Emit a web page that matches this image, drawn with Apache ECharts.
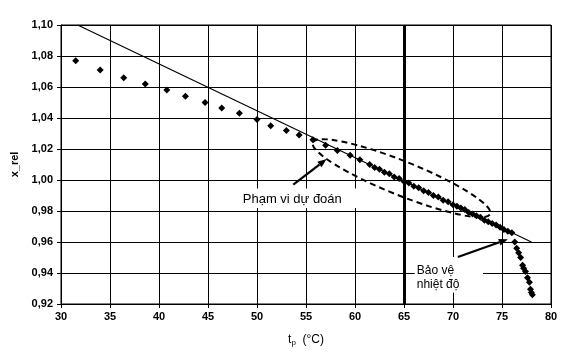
<!DOCTYPE html>
<html><head><meta charset="utf-8">
<script src="https://cdn.jsdelivr.net/npm/echarts@6/dist/echarts.min.js"></script>
<style>html,body{margin:0;padding:0;background:#fff}#c{width:564px;height:352px}</style>
</head><body><div id="c"></div>
<script>
// Measured points: temperature t_p (°C) and relative x_rel
const tempC = [31.5, 34.0, 36.4, 38.6, 40.8, 42.7, 44.7, 46.4, 48.2, 50.0, 51.4, 53.0, 54.3, 55.7, 57.0, 58.2, 59.5, 60.5, 61.5,
  62.0, 62.5, 63.0, 63.5, 64.0, 64.5, 65.0, 65.5, 66.0, 66.5, 67.0, 67.5, 68.0, 68.5, 69.0, 69.5, 70.0,
  70.4, 70.8, 71.2, 71.6, 72.0, 72.4, 72.8, 73.2, 73.6, 74.0, 74.4, 74.8, 75.2, 75.6, 76.0,
  76.3, 76.5, 76.7, 76.9, 77.1, 77.2, 77.4, 77.6, 77.8, 77.9, 78.0, 78.1];
const xRel = [1.077, 1.071, 1.066, 1.062, 1.058, 1.054, 1.050, 1.0465, 1.043, 1.039, 1.035, 1.032, 1.029, 1.026, 1.0225, 1.019, 1.016, 1.013, 1.010,
  1.008, 1.007, 1.005, 1.004, 1.002, 1.001, 0.999, 0.998, 0.996, 0.995, 0.993, 0.992, 0.990, 0.989, 0.987, 0.986, 0.984,
  0.983, 0.982, 0.981, 0.979, 0.978, 0.977, 0.976, 0.974, 0.973, 0.972, 0.971, 0.9695, 0.968, 0.967, 0.966,
  0.960, 0.956, 0.953, 0.950, 0.945, 0.943, 0.941, 0.937, 0.934, 0.9295, 0.9275, 0.926];
// Prediction (trend) line end points
const trendT = [31.7, 78.0];
const trendX = [1.100, 0.960];
// Thermal protection threshold
const protectT = [65];
// Axis ranges
const xAxisRange = [30, 80, 5];
const yAxisRange = [0.92, 1.10, 0.02];
// Annotation texts
const labelRange = 'Phạm vi dự đoán';
const labelProtect = 'Bảo vệ\nnhiệt độ';

const chart = echarts.init(document.getElementById('c'), null, {renderer: 'canvas'});
const FONT = 'Liberation Sans, Arial, sans-serif';
const fmtY = v => v.toFixed(2).replace('.', ',');

chart.setOption({
  animation: false,
  backgroundColor: '#fff',
  grid: {left: 61, right: 13, top: 25, bottom: 42, show: true, borderColor: '#000', borderWidth: 1},
  xAxis: {
    type: 'value', min: xAxisRange[0], max: xAxisRange[1], interval: xAxisRange[2],
    axisLine: {show: true, onZero: false, lineStyle: {color: '#000', width: 1}},
    axisTick: {show: true, length: 4, lineStyle: {color: '#000'}},
    axisLabel: {color: '#000', fontSize: 11, fontWeight: 'bold', fontFamily: FONT, margin: 7},
    splitLine: {show: true, lineStyle: {color: '#000', width: 1}},
    name: 't{s|p}  (°C)', nameLocation: 'middle', nameGap: 29,
    nameTextStyle: {color: '#000', fontSize: 12, fontFamily: FONT,
      rich: {s: {fontSize: 8, verticalAlign: 'bottom', padding: [6, 0, 0, 0], fontFamily: FONT, color: '#000'}}}
  },
  yAxis: {
    type: 'value', min: yAxisRange[0], max: yAxisRange[1], interval: yAxisRange[2],
    axisLine: {show: true, onZero: false, lineStyle: {color: '#000', width: 1}},
    axisTick: {show: true, length: 4, lineStyle: {color: '#000'}},
    axisLabel: {color: '#000', fontSize: 11, fontWeight: 'bold', fontFamily: FONT, margin: 8, formatter: fmtY},
    splitLine: {show: true, lineStyle: {color: '#000', width: 1}},
    name: 'x_rel', nameLocation: 'middle', nameGap: 40,
    nameTextStyle: {color: '#000', fontSize: 11, fontWeight: 'bold', fontFamily: FONT}
  },
  series: [
    {
      type: 'line', data: trendT.map((t, i) => [t, trendX[i]]), symbol: 'none',
      lineStyle: {color: '#000', width: 1.2}, silent: true, z: 3,
      markLine: {
        silent: true, symbol: 'none', label: {show: false},
        lineStyle: {color: '#000', width: 3, type: 'solid'},
        data: protectT.map(v => ({xAxis: v}))
      }
    },
    {
      type: 'scatter', data: tempC.map((t, i) => [t, xRel[i]]), symbol: 'diamond', symbolSize: 7,
      itemStyle: {color: '#000', opacity: 1}, z: 4
    }
  ]
});

// Annotations (ellipse, arrows, labels) positioned from data coordinates
const px = (x, y) => chart.convertToPixel({gridIndex: 0}, [x, y]);
const ellL = px(55.7, 1.0242), ellR = px(73.8, 0.9781);
const ecx = (ellL[0] + ellR[0]) / 2, ecy = (ellL[1] + ellR[1]) / 2;
const erx = Math.hypot(ellR[0] - ellL[0], ellR[1] - ellL[1]) / 2;
const eang = Math.atan2(ellR[1] - ellL[1], ellR[0] - ellL[0]);

function arrow(from, to) {
  const a = px(from[0], from[1]), b = px(to[0], to[1]);
  const ang = Math.atan2(b[1] - a[1], b[0] - a[0]);
  const L = 9, W = 3.5;
  const bx = b[0] - L * Math.cos(ang), by = b[1] - L * Math.sin(ang);
  return [
    {type: 'line', shape: {x1: a[0], y1: a[1], x2: bx, y2: by}, style: {stroke: '#000', lineWidth: 2.2}, z: 20},
    {type: 'polygon', shape: {points: [[b[0], b[1]],
      [bx - W * Math.sin(ang), by + W * Math.cos(ang)],
      [bx + W * Math.sin(ang), by - W * Math.cos(ang)]]}, style: {fill: '#000'}, z: 20}
  ];
}

const lab1 = px(53.6, 0.9875);
const box1a = px(48.1, 0.9945), box1b = px(60.3, 0.9820);
const lab2 = px(66.3, 0.9462);
const box2a = px(66.1, 0.9503), box2b = px(73.06, 0.9275);

chart.setOption({
  graphic: [
    {type: 'ellipse', shape: {cx: 0, cy: 0, rx: erx, ry: 17}, x: ecx, y: ecy, rotation: -eang,
      style: {fill: 'none', stroke: '#000', lineWidth: 2, lineDash: [6, 4]}, z: 15},
    {type: 'rect', shape: {x: box1a[0], y: box1a[1], width: box1b[0] - box1a[0], height: box1b[1] - box1a[1]},
      style: {fill: '#fff'}, z: 18},
    {type: 'rect', shape: {x: box2a[0], y: box2a[1], width: box2b[0] - box2a[0], height: box2b[1] - box2a[1]},
      style: {fill: '#fff'}, z: 18},
    ...arrow([53.7, 0.997], [57.1, 1.0135]),
    ...arrow([70.5, 0.9503], [75.6, 0.9618]),
    {type: 'text', x: lab1[0], y: lab1[1], style: {text: labelRange, font: '13px ' + FONT, fill: '#000',
      textAlign: 'center', textVerticalAlign: 'middle'}, z: 21},
    {type: 'text', x: lab2[0], y: lab2[1], style: {text: labelProtect, font: '12px ' + FONT, fill: '#000',
      textAlign: 'left', textVerticalAlign: 'top', lineHeight: 14}, z: 21}
  ]
});
</script></body></html>
